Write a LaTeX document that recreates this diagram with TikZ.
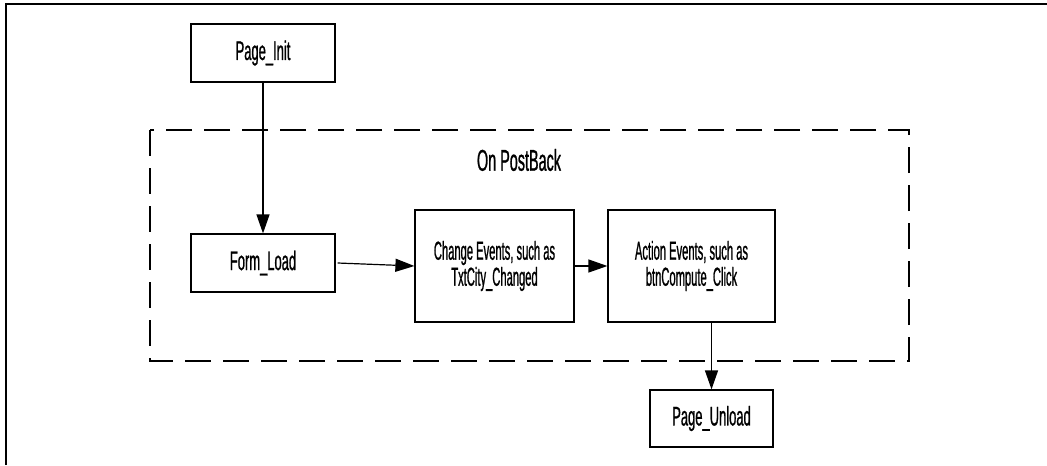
\documentclass[tikz,border=0pt]{standalone}
\usepackage{fontspec}
\setmainfont[FakeStretch=0.48, FakeBold=0.8]{Liberation Sans}
\newfontfamily\narrowfont[FakeStretch=0.43, FakeBold=0.8]{Liberation Sans}
\usetikzlibrary{arrows.meta}

\tikzset{
  stage/.style={draw, line width=0.6pt, align=center, inner sep=0pt, font=\fontsize{13.5}{14}\selectfont},
  eventbox/.style={stage, font=\narrowfont\fontsize{13}{13}\selectfont},
  flow/.style={line width=0.6pt, -{Triangle[length=9.5pt, width=6.5pt]}},
}

\begin{document}
\begin{tikzpicture}[x=0.5pt, y=-0.5pt]
    \useasboundingbox (0,0) rectangle (1047,465);
    \draw[line width=1pt] (6,465) -- (6,4) -- (1047,4);
    \draw[line width=0.6pt, dash pattern=on 13pt off 6pt] (150,130) rectangle (909,361);
    \node (postback) at (519,160) [font=\fontsize{15}{16}\selectfont] {On PostBack};

    \node (init) at (263,53) [stage, minimum width=72pt, minimum height=29pt] {Page\_Init};
    \node (form) at (263,263) [stage, minimum width=72pt, minimum height=29pt] {Form\_Load};
    \node (change) at (494.5,266) [eventbox, minimum width=79.5pt, minimum height=56pt] {Change Events, such as\\TxtCity\_Changed};
    \node (action) at (691.5,266) [eventbox, minimum width=83.5pt, minimum height=56pt] {Action Events, such as\\btnCompute\_Click};
    \node (unload) at (711.5,418.5) [stage, minimum width=61.5pt, minimum height=28.5pt] {Page\_Unload};

    \draw[flow] (init) -- (form);
    \draw[flow] ([xshift=1pt]form.east) -- (change.west);
    \draw[flow] (change) -- (action);
    \draw[flow] (unload.north |- action.south) -- (unload.north);
\end{tikzpicture}
\end{document}
